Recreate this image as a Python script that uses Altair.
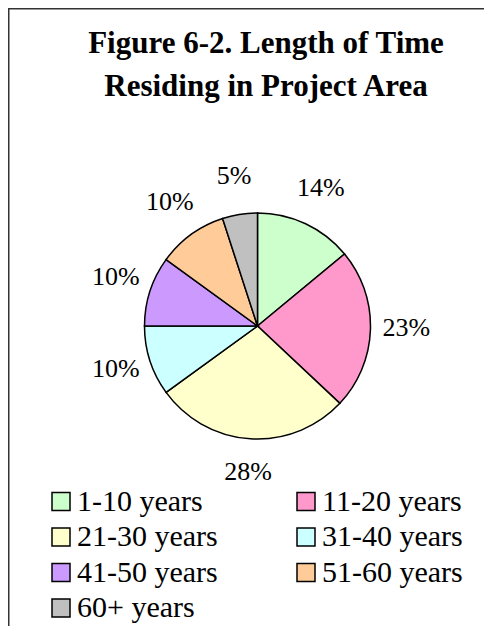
import altair as alt
import pandas as pd

# ---- data ----
categories = ["1-10 years", "11-20 years", "21-30 years", "31-40 years",
              "41-50 years", "51-60 years", "60+ years"]
percents = [14, 23, 28, 10, 10, 10, 5]
colors = ["#CCFFCC", "#FF99CC", "#FFFFCC", "#CCFFFF", "#CC99FF", "#FFCC99", "#C0C0C0"]
title_lines = ["Figure 6-2. Length of Time", "Residing in Project Area"]

df = pd.DataFrame({
    "category": categories,
    "value": percents,
    "order": list(range(len(categories))),
    "label": [f"{p}%" for p in percents],
})

# legend is filled column by column: put the entries in the order that reads row-wise
legend_order = categories[0::2] + categories[1::2]
legend_colors = [colors[categories.index(c)] for c in legend_order]

SERIF = "Liberation Serif"
W, H = 476, 618
CX, CY = 249.5, 318

base = alt.Chart(df).encode(
    theta=alt.Theta("value:Q", stack=True),
    order=alt.Order("order:Q"),
)

pie = base.mark_arc(outerRadius=113, stroke="black", strokeWidth=1.5).encode(
    x=alt.value(CX), y=alt.value(CY),
    color=alt.Color(
        "category:N",
        scale=alt.Scale(domain=legend_order, range=legend_colors),
        sort=legend_order,
        legend=alt.Legend(
            title=None, orient="none", legendX=38, legendY=478.5,
            columns=2, columnPadding=73, rowPadding=5.5,
            symbolType="square", symbolSize=324, symbolStrokeColor="black",
            symbolStrokeWidth=1.5, symbolOpacity=1,
            labelFont=SERIF, labelFontSize=30, labelColor="black",
            labelOffset=1, labelLimit=300, padding=0,
        ),
    ),
)

labels = base.mark_text(radius=149, dy=-3, font=SERIF, fontSize=26, color="black").encode(
    x=alt.value(CX), y=alt.value(CY),
    text="label:N",
)

one = pd.DataFrame({"k": [0]})
title = alt.Chart(one).mark_text(
    font=SERIF, fontSize=31, fontWeight="bold", color="black",
    align="center", baseline="alphabetic", lineHeight=43,
).encode(x=alt.value(258), y=alt.value(45), text=alt.value(title_lines))

top_rule = alt.Chart(one).mark_rule(color="#333333", strokeWidth=1.5).encode(
    x=alt.value(0), x2=alt.value(W), y=alt.value(0.75)
)
left_rule = alt.Chart(one).mark_rule(color="#333333", strokeWidth=1.5).encode(
    x=alt.value(0.75), y=alt.value(0), y2=alt.value(H)
)

chart = alt.layer(top_rule, left_rule, title, pie, labels).properties(
    width=W, height=H,
    padding=0,
    autosize=alt.AutoSizeParams(type="none"),
).configure_view(stroke=None).configure(background="white")

chart.save("out.html", embed_options={"renderer": "svg", "actions": False})
